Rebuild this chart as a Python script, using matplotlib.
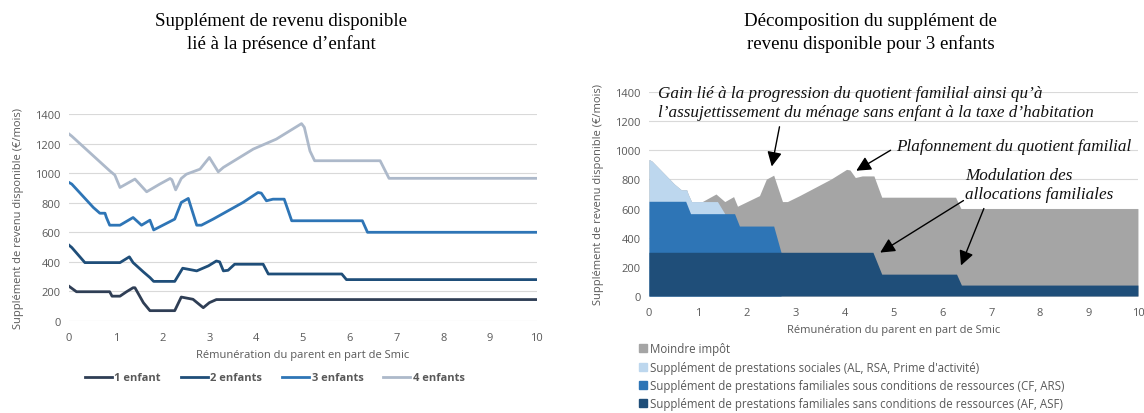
import numpy as np
import matplotlib
matplotlib.use("Agg")
import matplotlib.pyplot as plt
from matplotlib.patches import Patch

plt.rcParams['font.family'] = ['Open Sans', 'DejaVu Sans']

# Left chart: supplément de revenu disponible par nombre d'enfants
x1 = [0, 0.16, 0.87, 0.92, 1.09, 1.23, 1.37, 1.41, 1.59, 1.73, 2.26, 2.4, 2.65, 2.87, 3.0, 3.15, 10]
y1 = [235, 198, 198, 168, 168, 198, 225, 225, 124, 70, 70, 162, 147, 90, 124, 145, 145]

x2 = [0, 0.06, 0.34, 1.09, 1.29, 1.37, 1.59, 1.73, 1.81, 2.26, 2.43, 2.55, 2.73, 2.98, 3.15, 3.22,
      3.3, 3.4, 3.54, 4.15, 4.26, 5.83, 5.93, 10]
y2 = [513, 497, 395, 395, 434, 395, 332, 294, 268, 268, 357, 350, 339, 373, 406, 400,
      339, 343, 384, 384, 318, 318, 280, 280]

x3 = [0, 0.06, 0.52, 0.66, 0.77, 0.8, 0.87, 1.09, 1.37, 1.55, 1.73, 1.81, 2.26, 2.4, 2.55, 2.73,
      2.83, 3.08, 3.72, 4.04, 4.11, 4.22, 4.36, 4.6, 4.76, 6.27, 6.38, 10]
y3 = [937, 926, 768, 729, 729, 700, 648, 648, 700, 648, 682, 616, 689, 802, 829, 648,
      648, 689, 802, 869, 865, 813, 824, 824, 678, 678, 600, 600]

x4 = [0, 0.06, 0.87, 0.98, 1.09, 1.41, 1.66, 1.94, 2.16, 2.2, 2.28, 2.4, 2.51, 2.8, 3.0, 3.19,
      3.3, 3.94, 4.43, 4.97, 5.03, 5.15, 5.25, 6.65, 6.84, 10]
y4 = [1265, 1250, 1016, 987, 903, 960, 874, 926, 964, 955, 887, 964, 993, 1027, 1106, 1009,
      1039, 1163, 1230, 1335, 1310, 1150, 1084, 1084, 965, 965]

series_labels = ['1 enfant', '2 enfants', '3 enfants', '4 enfants']
series_colors = ['#2f3e55', '#1f4e79', '#2e75b6', '#adb9ca']

# Right chart: décomposition pour 3 enfants (sommets cumulés de chaque couche)
x_soc = [0, 0.06, 0.52, 0.66, 0.77, 0.8, 0.87, 1.4, 1.55]
y_soc = [937, 926, 768, 729, 729, 700, 648, 648, 565]

x_cf = [0, 0.75, 0.85, 1.75, 1.85, 2.55, 2.7]
y_cf = [650, 650, 565, 565, 480, 480, 300]

x_af = [0, 4.58, 4.76, 6.29, 6.39, 10]
y_af = [300, 300, 150, 150, 75, 75]

layer_labels = ['Moindre impôt',
                "Supplément de prestations sociales (AL, RSA, Prime d'activité)",
                'Supplément de prestations familiales sous conditions de ressources (CF, ARS)',
                'Supplément de prestations familiales sans conditions de ressources (AF, ASF)']
layer_colors = ['#a5a5a5', '#bdd7ee', '#2e75b6', '#1f4e79']

txt_col = '#595959'
grid_col = '#d9d9d9'
serif = ['Liberation Serif', 'DejaVu Serif']

fig = plt.figure(figsize=(11.44, 4.14), dpi=100)
ax1 = fig.add_axes([0.0603, 0.2222, 0.409, 0.5])
ax2 = fig.add_axes([0.5673, 0.2826, 0.4274, 0.4928])

for ax in (ax1, ax2):
    ax.set_xlim(0, 10)
    ax.set_ylim(0, 1400)
    ax.set_xticks(range(0, 11))
    ax.set_yticks(range(0, 1401, 200))
    ax.yaxis.grid(True, color=grid_col, lw=0.8)
    ax.set_axisbelow(True)
    for s in ax.spines.values():
        s.set_visible(False)
    ax.tick_params(length=0, labelsize=8, labelcolor=txt_col)
    ax.tick_params(axis='x', pad=8)
    ax.tick_params(axis='y', pad=6)
    ax.set_xlabel('Rémunération du parent en part de Smic', fontsize=8, color=txt_col, labelpad=4)
    ax.set_ylabel('Supplément de revenu disponible (€/mois)', fontsize=8, color=txt_col, labelpad=8)

# left lines
for xs, ys, lab, c in zip([x1, x2, x3, x4], [y1, y2, y3, y4], series_labels, series_colors):
    ax1.plot(xs, ys, color=c, lw=2, label=lab, solid_joinstyle='round')
ax1.legend(loc='upper center', bbox_to_anchor=(0.44, -0.2), ncol=4, frameon=False,
           labelcolor=txt_col, handlelength=2.4, handletextpad=0.25, columnspacing=1.8,
           prop={'weight': 'bold', 'size': 8})

# right stacked areas
ax2.fill_between(x3, 0, y3, color=layer_colors[0], lw=0)
ax2.fill_between(x_soc, 0, y_soc, color=layer_colors[1], lw=0)
ax2.fill_between(x_cf, 0, y_cf, color=layer_colors[2], lw=0)
ax2.fill_between(x_af, 0, y_af, color=layer_colors[3], lw=0)
handles = [Patch(color=c) for c in layer_colors]
ax2.legend(handles, layer_labels, loc='upper left', bbox_to_anchor=(-0.03, -0.205), frameon=False,
           fontsize=8.3, labelcolor=txt_col, handlelength=0.7, handleheight=0.7, handletextpad=0.3,
           labelspacing=0.45, borderaxespad=0)

# annotations
ann = dict(fontsize=12.3, style='italic', family=serif, color='#111111')
arr = dict(arrowstyle='-|>', color='black', lw=1, mutation_scale=22)
ax2.text(0.18, 1395, "Gain lié à la progression du quotient familial ainsi qu’à", va='center', **ann)
ax2.text(0.18, 1262, "l’assujettissement du ménage sans enfant à la taxe d’habitation", va='center', **ann)
ax2.annotate('', xy=(2.5, 870), xytext=(2.68, 1180), arrowprops=arr)
ax2.text(5.05, 1030, 'Plafonnement du quotient familial', va='center', **ann)
ax2.annotate('', xy=(4.19, 850), xytext=(4.99, 1010), arrowprops=arr)
ax2.text(6.47, 830, 'Modulation des', va='center', **ann)
ax2.text(6.47, 700, 'allocations familiales', va='center', **ann)
ax2.annotate('', xy=(4.68, 288), xytext=(6.48, 665), arrowprops=arr)
ax2.annotate('', xy=(6.36, 192), xytext=(6.87, 618), arrowprops=arr)

# titles
fig.text(0.246, 0.92, 'Supplément de revenu disponible\nlié à la présence d’enfant', ha='center', va='center',
         fontsize=13.6, family=serif, linespacing=1.38)
fig.text(0.761, 0.92, 'Décomposition du supplément de\nrevenu disponible pour 3 enfants', ha='center', va='center',
         fontsize=13.6, family=serif, linespacing=1.38)

fig.savefig('out.png', dpi=100)
